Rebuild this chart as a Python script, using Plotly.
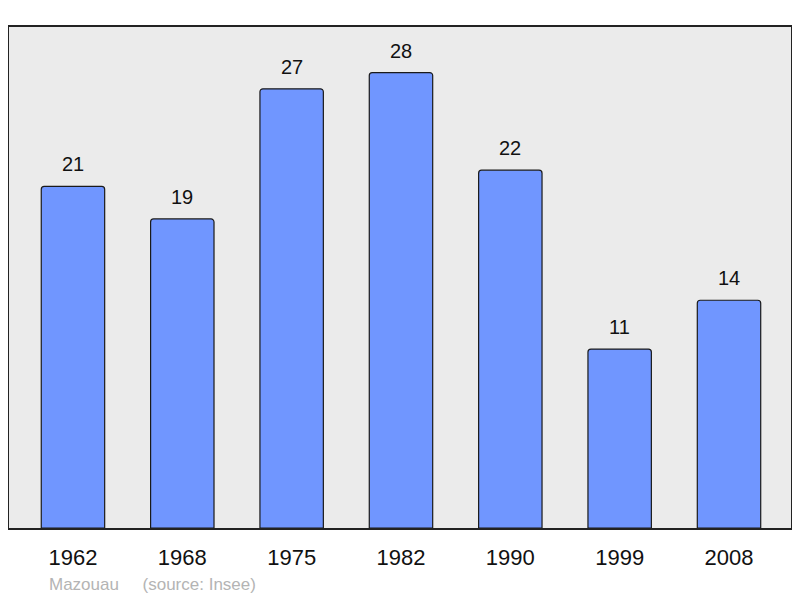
import plotly.graph_objects as go

# population by census year
years = ["1962", "1968", "1975", "1982", "1990", "1999", "2008"]
population = [21, 19, 27, 28, 22, 11, 14]

fig = go.Figure()
fig.add_trace(go.Bar(
    x=years,
    y=population,
    width=0.58,
    marker=dict(color="#7096ff", line=dict(color="#1a1a1a", width=1.2), cornerradius=3),
    hoverinfo="x+y",
))

# value labels above each bar (category index positions)
for i, val in enumerate(population):
    fig.add_annotation(x=i, y=val, text=str(val), showarrow=False,
                       yshift=22, font=dict(size=20, color="#111"))

fig.add_annotation(xref="paper", yref="paper", x=0.049, y=-0.112,
                   xanchor="left", yanchor="middle",
                   text="Mazouau &nbsp;&nbsp;&nbsp; (source: Insee)", showarrow=False,
                   font=dict(size=17, color="#b4b4b4"))

# page body has an 8px margin, so the figure is shrunk by that amount
fig.update_layout(
    width=792, height=590,
    margin=dict(l=1, r=9, t=19, b=70),
    paper_bgcolor="white",
    plot_bgcolor="#ebebeb",
    font=dict(family="Liberation Sans, Arial, sans-serif"),
    showlegend=False,
)
fig.update_xaxes(type="category", range=[-0.585, 6.567], showline=True, mirror=True,
                 linecolor="#222", linewidth=2, ticks="", ticklabelstandoff=9,
                 tickfont=dict(size=22, color="#111"), showgrid=False)
fig.update_yaxes(range=[0, 30.8], showline=True, mirror=True, linecolor="#222",
                 linewidth=2, showticklabels=False, showgrid=False, zeroline=False)

fig.write_html("out.html")
